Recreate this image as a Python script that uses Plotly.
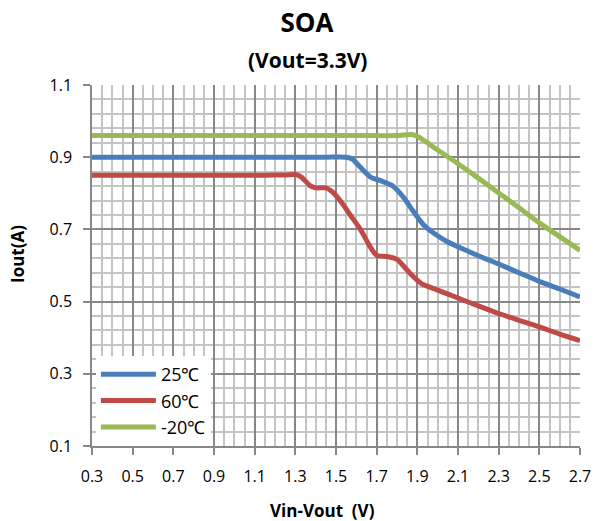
import plotly.graph_objects as go

# Safe operating area curves: output current vs. input-output voltage drop
vin_vout_25 = [0.3, 0.8, 1.2, 1.45, 1.55, 1.58, 1.62, 1.67, 1.72, 1.78, 1.83, 1.88, 1.93, 1.98, 2.05, 2.1, 2.2, 2.3, 2.4,
               2.5, 2.6, 2.7]
iout_25 = [0.9, 0.9, 0.9, 0.9, 0.9, 0.895, 0.872, 0.845, 0.835, 0.82, 0.79, 0.75, 0.713, 0.69, 0.665, 0.652, 0.627,
           0.604, 0.58, 0.556, 0.535, 0.513]

vin_vout_60 = [0.3, 0.7, 1.0, 1.15, 1.25, 1.3, 1.33, 1.37, 1.4, 1.45, 1.48, 1.52, 1.57, 1.62, 1.67, 1.7, 1.75, 1.8,
               1.83, 1.87, 1.92, 2.0, 2.1, 2.2, 2.3, 2.4, 2.5, 2.6, 2.7]
iout_60 = [0.85, 0.85, 0.85, 0.85, 0.851, 0.852, 0.845, 0.822, 0.815, 0.815, 0.805, 0.78, 0.74, 0.7, 0.65, 0.628,
           0.625, 0.617, 0.6, 0.575, 0.55, 0.532, 0.51, 0.488, 0.467, 0.448, 0.43, 0.41, 0.392]

vin_vout_m20 = [0.3, 0.8, 1.3, 1.6, 1.8, 1.87, 1.9, 2.0, 2.1, 2.2, 2.3, 2.4, 2.5, 2.6, 2.7]
iout_m20 = [0.96, 0.96, 0.96, 0.96, 0.96, 0.963, 0.958, 0.92, 0.882, 0.842, 0.801, 0.76, 0.718, 0.68, 0.642]

series_names = ["25℃", "60℃", "-20℃"]
series_colors = ["#4A7EBB", "#BE4B48", "#98B954"]

FONT = "Open Sans"

fig = go.Figure()
for name, xs, ys, color in zip(series_names,
                               [vin_vout_25, vin_vout_60, vin_vout_m20],
                               [iout_25, iout_60, iout_m20],
                               series_colors):
    fig.add_trace(go.Scatter(
        x=xs, y=ys, name=name, mode="lines",
        line=dict(color=color, width=5, shape="spline", smoothing=0.7),
    ))

major_grid = "#888888"
minor_grid = "#C4C4C4"

fig.update_xaxes(
    range=[0.3, 2.7], tick0=0.3, dtick=0.2, tickformat=".1f",
    showgrid=True, gridcolor=major_grid, gridwidth=1.5,
    minor=dict(dtick=0.05, tick0=0.3, showgrid=True, gridcolor=minor_grid, gridwidth=1.5),
    showline=True, linecolor=major_grid, linewidth=1.5,
    ticks="outside", ticklen=7, tickcolor=major_grid, tickwidth=1.5,
    ticklabelstandoff=8,
    tickfont=dict(family=FONT, size=16, color="black"),
    zeroline=False, mirror=False,
)
fig.update_yaxes(
    range=[0.1, 1.1], tick0=0.1, dtick=0.2, tickformat=".1f",
    showgrid=True, gridcolor=major_grid, gridwidth=1.5,
    minor=dict(dtick=0.04, tick0=0.1, showgrid=True, gridcolor=minor_grid, gridwidth=1.5),
    showline=True, linecolor=major_grid, linewidth=1.5,
    ticks="outside", ticklen=7, tickcolor=major_grid, tickwidth=1.5,
    ticklabelstandoff=8,
    tickfont=dict(family=FONT, size=16, color="black"),
    zeroline=False,
)

fig.update_layout(
    width=603, height=521,
    margin=dict(l=92, r=23, t=85, b=75),
    paper_bgcolor="white", plot_bgcolor="white",
    font=dict(family=FONT, color="black"),
    title=dict(text="<b>SOA</b>", x=307 / 603, xanchor="center",
               y=1 - 23 / 521, yanchor="middle",
               font=dict(family=FONT, size=26, color="black")),
    legend=dict(x=0.008, y=0, xanchor="left", yanchor="bottom",
                bgcolor="white", borderwidth=0, itemwidth=55,
                font=dict(family=FONT, size=18, color="black"),
                tracegroupgap=0),
    showlegend=True,
    annotations=[
        dict(text="<b>(Vout=3.3V)</b>", xref="paper", yref="paper",
             x=(307 - 92) / 488, y=(446 - 60) / 361, xanchor="center", yanchor="middle",
             showarrow=False, font=dict(family=FONT, size=21, color="black")),
        dict(text="<b>Vin-Vout\u00a0\u00a0(V)</b>", xref="paper", yref="paper",
             x=(322 - 92) / 488, y=(446 - 510) / 361, xanchor="center", yanchor="middle",
             showarrow=False, font=dict(family=FONT, size=17, color="black")),
        dict(text="<b>Iout(A)</b>", xref="paper", yref="paper", textangle=-90,
             x=(17 - 92) / 488, y=(446 - 254) / 361, xanchor="center", yanchor="middle",
             showarrow=False, font=dict(family=FONT, size=17, color="black")),
    ],
)

fig.write_html("out.html")
